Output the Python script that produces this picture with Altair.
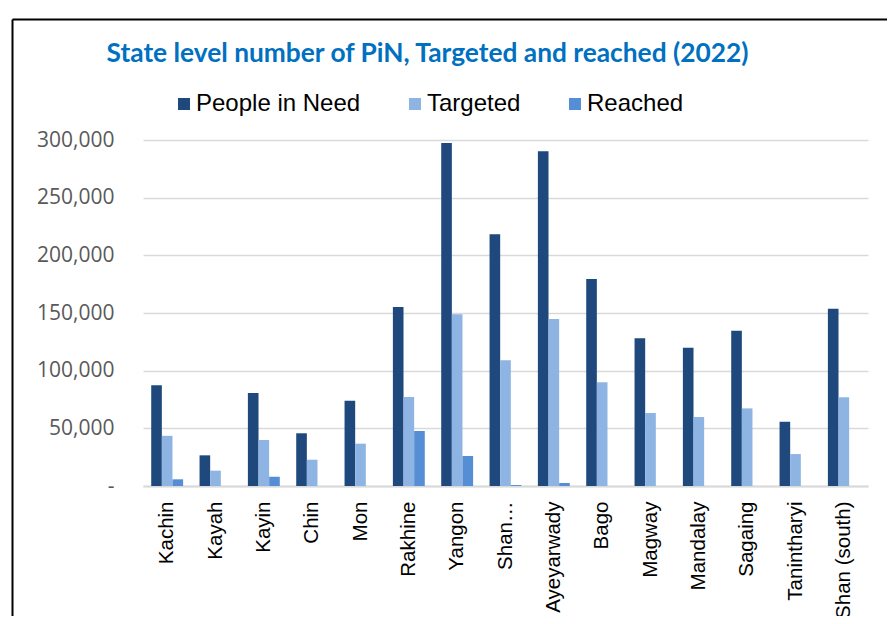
import altair as alt
import pandas as pd

categories = ["Kachin", "Kayah", "Kayin", "Chin", "Mon", "Rakhine", "Yangon",
              "Shan (north)", "Ayeyarwady", "Bago", "Magway", "Mandalay",
              "Sagaing", "Tanintharyi", "Shan (south)"]
people_in_need = [87300, 26600, 80600, 45700, 74000, 155200, 297400, 218200,
                  290200, 179500, 128000, 119900, 134600, 55700, 153700]
targeted = [43500, 13300, 39900, 22800, 36700, 77200, 149000, 109000,
            144800, 89900, 63300, 59800, 67300, 27700, 76900]
reached = [5800, 0, 8100, 0, 0, 47700, 26000, 800,
           2600, 0, 0, 0, 0, 0, 0]
series = ["People in Need", "Targeted", "Reached"]
colors = ["#1F497D", "#8EB4E3", "#558ED5"]

rows = []
for i, c in enumerate(categories):
    for s, vals in zip(series, [people_in_need, targeted, reached]):
        rows.append({"State": c, "Series": s, "Value": vals[i]})
df = pd.DataFrame(rows)

W, H = 725, 346
PAD_L, PAD_T, PAD_R, PAD_B = 135, 132, 19, 130

bars = alt.Chart(df).mark_bar().encode(
    x=alt.X("State:N", sort=categories, title=None,
            scale=alt.Scale(paddingInner=0.34, paddingOuter=0.17),
            axis=alt.Axis(labelAngle=-90, labelFont="Liberation Sans", labelFontSize=20.5,
                          labelColor="#000000", labelPadding=15, ticks=False,
                          domainColor="#D9D9D9", domainWidth=2, labelLimit=0,
                          labelExpr="datum.value == 'Shan (north)' ? 'Shan…' : datum.value")),
    xOffset=alt.XOffset("Series:N", sort=series, scale=alt.Scale(paddingInner=0, paddingOuter=0)),
    y=alt.Y("Value:Q", title=None,
            scale=alt.Scale(domain=[0, 300000], nice=False),
            axis=alt.Axis(values=[0, 50000, 100000, 150000, 200000, 250000, 300000],
                          labelExpr="datum.value == 0 ? '-\u00a0\u00a0' : format(datum.value, ',')",
                          labelFont="Open Sans", labelFontSize=21, labelColor="#595959",
                          labelPadding=29, ticks=False, domain=False,
                          gridColor="#D9D9D9", gridWidth=1.5)),
    color=alt.Color("Series:N", sort=series,
                    scale=alt.Scale(domain=series, range=colors),
                    legend=alt.Legend(title=None, orient="none", direction="horizontal",
                                      legendX=29, legendY=-48,
                                      symbolType="square", symbolSize=144,
                                      symbolStrokeWidth=0, labelFont="Liberation Sans",
                                      labelFontSize=24, labelColor="#000000", labelLimit=0,
                                      columnPadding=42, labelOffset=0)),
)

frame_data = pd.DataFrame({"k": [0]})
left_line = alt.Chart(frame_data).mark_rule(color="#000000", strokeWidth=2).encode(
    x=alt.value(-130.5), y=alt.value(-120.5), y2=alt.value(H + PAD_B))
top_line = alt.Chart(frame_data).mark_rule(color="#000000", strokeWidth=2).encode(
    x=alt.value(-130.5), x2=alt.value(W + PAD_R), y=alt.value(-120.5))

chart = alt.layer(bars, left_line, top_line).properties(
    width=W, height=H,
    autosize=alt.AutoSizeParams(type="none"),
    padding={"left": PAD_L, "top": PAD_T, "right": PAD_R, "bottom": PAD_B},
    title=alt.TitleParams("State level number of PiN, Targeted and reached (2022)",
                          font="Lato", fontSize=26.3, fontWeight="bold", color="#0070C0",
                          anchor="middle", dx=-78, offset=0, dy=49),
).configure_view(stroke=None)

chart.save("out.html", embed_options={"renderer": "svg", "actions": False})
